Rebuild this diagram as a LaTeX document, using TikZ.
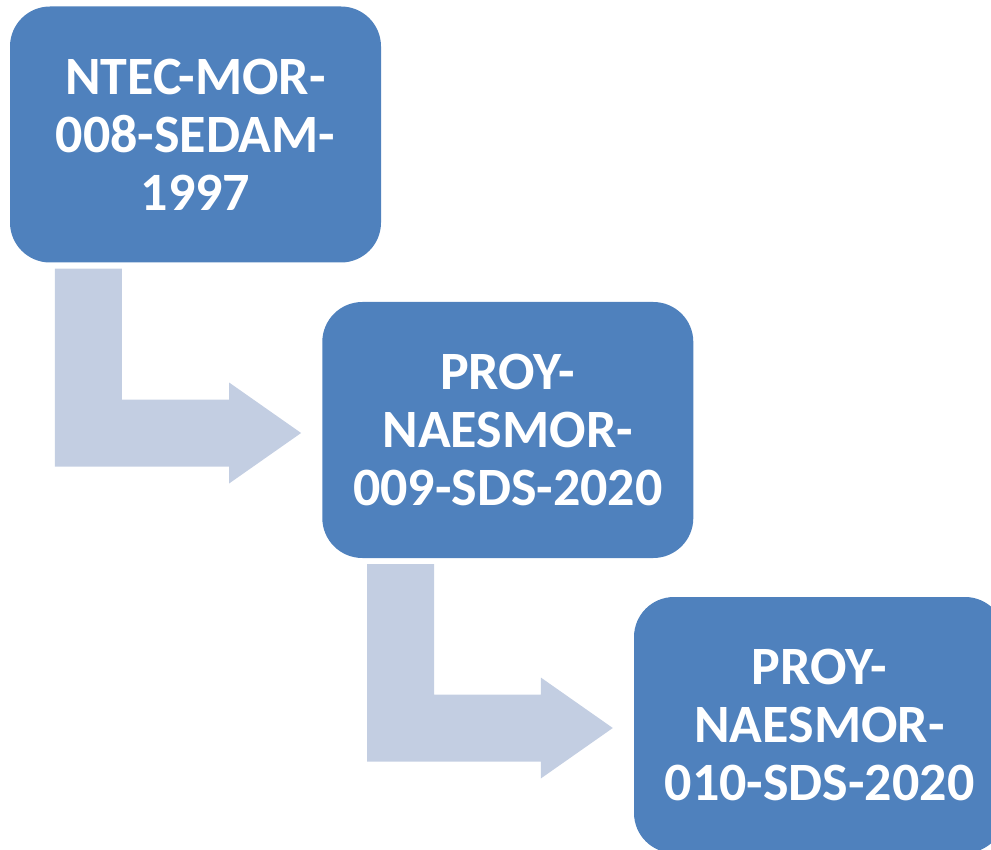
\documentclass[tikz,border=0pt]{standalone}
\usepackage{fontspec}
\setsansfont{Carlito}
\usepackage{tikz}
\usetikzlibrary{calc,positioning}
\usepackage{xcolor}
\definecolor{boxblue}{RGB}{79,129,189}
\definecolor{linkblue}{RGB}{195,206,226}

% bent arrow from the bottom of one box into the side of the next
\newcommand{\bentlink}[2]{%
  \fill[link] let \p1=($(#1.south west)+(45,-6)$), \p2=($(#2.west)+(-21,-3)$) in
    (\x1,\y1) -- (\x1+67pt,\y1) -- (\x1+67pt,\y2+33.5pt) -- (\x2-72pt,\y2+33.5pt)
    -- (\x2-72pt,\y2+50.5pt) -- (\x2,\y2) -- (\x2-72pt,\y2-50.5pt)
    -- (\x2-72pt,\y2-33.5pt) -- (\x1,\y2-33.5pt) -- cycle;}

\begin{document}
\begin{tikzpicture}[x=1pt,y=1pt,
	  every node/.style={align=center,text=white,draw=none},
	  norma/.style={fill=boxblue,rounded corners=40pt,inner sep=0pt,
	    minimum width=371pt,minimum height=256pt,
	    font=\sffamily\bfseries\fontsize{54}{58}\selectfont},
	  link/.style={fill=linkblue}]

	  \path[use as bounding box,clip] (0,0) rectangle (991,-850);

	  % the three documents, stepping down to the right
	  \node[norma] (sedam) at (195.5,-134.5) {NTEC-MOR-\\008-SEDAM-\\1997};
	  \node[norma] (sds9) at (507.8,-430) {PROY-\\NAESMOR-\\009-SDS-2020};
	  \node[norma] (sds10) at (819.5,-725) {PROY-\\NAESMOR-\\010-SDS-2020};

	  \bentlink{sedam}{sds9}
	  \bentlink{sds9}{sds10}
\end{tikzpicture}
\end{document}
